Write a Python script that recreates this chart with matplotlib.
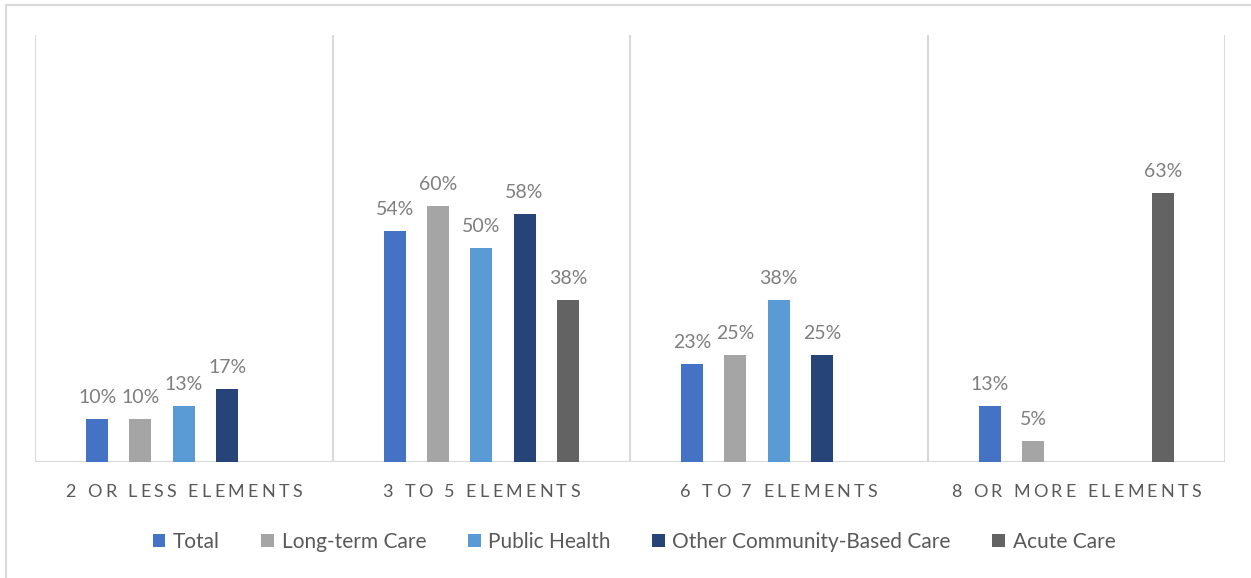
import matplotlib
matplotlib.use("Agg")
import matplotlib.pyplot as plt
from matplotlib.patches import Patch
from matplotlib.lines import Line2D
from matplotlib.transforms import IdentityTransform

# ---- data ----
categories = ["2 OR LESS ELEMENTS", "3 TO 5 ELEMENTS", "6 TO 7 ELEMENTS", "8 OR MORE ELEMENTS"]
series_names = ["Total", "Long-term Care", "Public Health", "Other Community-Based Care", "Acute Care"]
total = [10, 54, 23, 13]
long_term_care = [10, 60, 25, 5]
public_health = [13, 50, 38, None]
other_community = [17, 58, 25, None]
acute_care = [None, 38, None, 63]
series_values = [total, long_term_care, public_health, other_community, acute_care]
colors = ["#4472C4", "#A5A5A5", "#5B9BD5", "#264478", "#636363"]

W, H, DPI = 1251, 578, 100
FONT = "Lato"
GRID = "#D9D9D9"
LABEL_C = "#7F7F7F"
TEXT_C = "#595959"

fig = plt.figure(figsize=(W / DPI, H / DPI), dpi=DPI)
fig.patch.set_facecolor("white")
ax = fig.add_axes([35 / W, 1 - 462 / H, (1225 - 35) / W, (462 - 34.5) / H])

n = len(categories)
slot = 0.1455
bar_w = 0.074
for s, (vals, col) in enumerate(zip(series_values, colors)):
    off = (s - 2) * slot
    for i, v in enumerate(vals):
        if v is None:
            continue
        ax.bar(i + off, v / 100, width=bar_w, color=col, zorder=3)
        ax.annotate(f"{v}%", (i + off, v / 100), xytext=(0, 11.5),
                    textcoords="offset points", ha="center", va="baseline",
                    fontsize=14, color=LABEL_C, family=FONT, zorder=4)

ax.set_xlim(-0.5, n - 0.5)
ax.set_ylim(0, 1.0)
for xb in [k - 0.5 for k in range(n + 1)]:
    ax.axvline(xb, color=GRID, lw=1.5, zorder=1)
ax.axhline(0, color=GRID, lw=1.5, zorder=2)
for sp in ax.spines.values():
    sp.set_visible(False)
ax.set_xticks([])
ax.set_yticks([])
ax.patch.set_alpha(0)

# category labels with letter spacing
renderer = fig.canvas.get_renderer()
cat_kw = dict(fontsize=13, color=TEXT_C, family=FONT)
tracking = 3.3


def char_advance(ch):
    t1 = fig.text(0, 0, "x" + ch + "x", **cat_kw)
    t2 = fig.text(0, 0, "xx", **cat_kw)
    w = t1.get_window_extent(renderer).width - t2.get_window_extent(renderer).width
    t1.remove()
    t2.remove()
    return w


for i, label in enumerate(categories):
    adv = [char_advance(c) for c in label]
    total_w = sum(adv) + tracking * (len(label) - 1)
    cx = ax.transData.transform((i, 0))[0]
    x = cx - total_w / 2
    y = H - 497
    for c, a in zip(label, adv):
        if c != " ":
            fig.text(x, y, c, transform=IdentityTransform(), ha="left",
                     va="baseline", **cat_kw)
        x += a + tracking

# legend
handles = [Patch(facecolor=c, edgecolor="none") for c in colors]
fig.legend(handles, series_names, loc="center", ncol=5,
           bbox_to_anchor=(634 / W, 1 - 542 / H), frameon=False,
           prop={"family": FONT, "size": 15}, labelcolor=TEXT_C,
           handlelength=0.62, handleheight=0.62, handletextpad=0.35,
           columnspacing=2.0, borderaxespad=0)

# outer frame (left and top edges)
fig.add_artist(Line2D([5.5 / W, 5.5 / W], [0, 1 - 4.5 / H], transform=fig.transFigure,
                      color=GRID, lw=1.5))
fig.add_artist(Line2D([5.5 / W, 1], [1 - 4.5 / H, 1 - 4.5 / H], transform=fig.transFigure,
                      color=GRID, lw=1.5))

fig.savefig("out.png", dpi=DPI, facecolor="white")
